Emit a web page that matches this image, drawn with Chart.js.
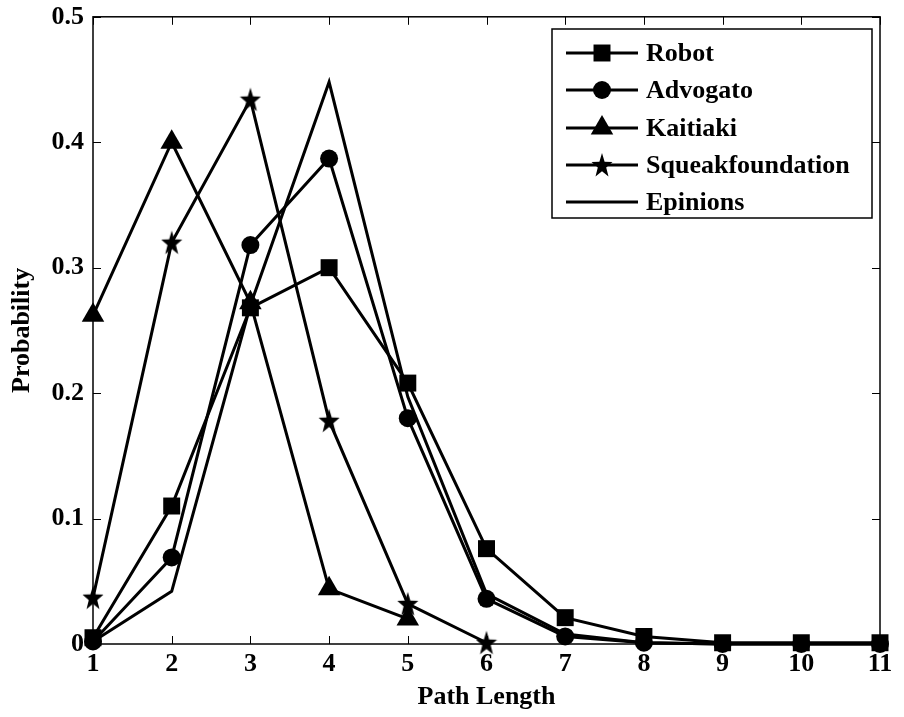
<!DOCTYPE html>
<html>
<head>
<meta charset="utf-8">
<script src="https://cdn.jsdelivr.net/npm/chart.js@4/dist/chart.umd.min.js"></script>
<style>
  body { margin: 0; background: #fff; }
  #pathChart { display: block; }
</style>
</head>
<body>
<canvas id="pathChart" width="904" height="717"></canvas>
<script>
// path length distribution per network
const pathLength = ['1', '2', '3', '4', '5', '6', '7', '8', '9', '10', '11'];
const robot    = [0.005, 0.110, 0.268, 0.300, 0.208, 0.076, 0.021, 0.006, 0.001, 0.001, 0.001];
const advogato = [0.002, 0.069, 0.318, 0.387, 0.180, 0.036, 0.006, 0.001, 0, 0, 0];
const kaitiaki = [0.262, 0.400, 0.272, 0.044, 0.020];
const squeak   = [0.037, 0.320, 0.434, 0.178, 0.032, 0.001];
const epinions = [0.002, 0.042, 0.270, 0.448, 0.197, 0.040, 0.008, 0.001, 0, 0, 0];
const yTicks = [0, 0.1, 0.2, 0.3, 0.4, 0.5];

const FONT = '"Liberation Serif", "Times New Roman", serif';
const FSIZE = 26;
Chart.defaults.font.family = FONT;
Chart.defaults.font.weight = 'bold';
Chart.defaults.color = '#000';

// filled five-point star marker
function makeStar() {
    const c = document.createElement('canvas');
    c.width = 22; c.height = 26;
    const g = c.getContext('2d');
    g.fillStyle = '#000';
    g.beginPath();
    for (let i = 0; i < 10; i++) {
        const r = i % 2 === 0 ? 13 : 5.2;
        const a = -Math.PI / 2 + i * Math.PI / 5;
        const px = 11 + Math.cos(a) * r * 0.85;
        const py = 14 + Math.sin(a) * r;
        if (i === 0) g.moveTo(px, py); else g.lineTo(px, py);
    }
    g.closePath();
    g.fill();
    return c;
}
const starImg = makeStar();

function series(label, data, style, radius) {
    return {
        label: label,
        data: data,
        borderColor: '#000',
        backgroundColor: '#000',
        borderWidth: 3,
        pointStyle: style,
        pointRadius: radius,
        pointHoverRadius: radius,
        pointBorderWidth: 0,
        tension: 0,
        clip: false
    };
}

// box frame with inward ticks on all four sides
const framePlugin = {
    id: 'frame',
    afterDatasetsDraw(chart) {
        const ctx = chart.ctx;
        const a = chart.chartArea;
        const xs = chart.scales.x, ys = chart.scales.y;
        const len = 8;
        ctx.save();
        ctx.strokeStyle = '#000';
        ctx.lineWidth = 1.5;
        ctx.strokeRect(a.left, a.top, a.right - a.left, a.bottom - a.top);
        ctx.lineWidth = 1;
        ctx.beginPath();
        xs.ticks.forEach((t, i) => {
            const px = Math.round(xs.getPixelForTick(i)) + 0.5;
            ctx.moveTo(px, a.bottom); ctx.lineTo(px, a.bottom - len);
            ctx.moveTo(px, a.top); ctx.lineTo(px, a.top + len);
        });
        ys.ticks.forEach(t => {
            const py = Math.round(ys.getPixelForValue(t.value)) + 0.5;
            ctx.moveTo(a.left, py); ctx.lineTo(a.left + len, py);
            ctx.moveTo(a.right, py); ctx.lineTo(a.right - len, py);
        });
        ctx.stroke();
        ctx.restore();
    }
};

// legend box in the upper right corner of the plot
const boxLegend = {
    id: 'boxLegend',
    afterDraw(chart) {
        const ctx = chart.ctx;
        const x0 = 552, y0 = 29, w = 320, h = 189;
        const rowY = [53, 90, 128, 165, 202];
        ctx.save();
        ctx.fillStyle = '#fff';
        ctx.fillRect(x0, y0, w, h);
        ctx.strokeStyle = '#000';
        ctx.lineWidth = 1.5;
        ctx.strokeRect(x0, y0, w, h);
        ctx.font = 'bold ' + FSIZE + 'px ' + FONT;
        ctx.textBaseline = 'middle';
        chart.data.datasets.forEach((ds, i) => {
            const y = rowY[i];
            ctx.strokeStyle = '#000';
            ctx.lineWidth = 3;
            ctx.beginPath();
            ctx.moveTo(566, y); ctx.lineTo(638, y);
            ctx.stroke();
            if (ds.pointRadius > 0) {
                ctx.fillStyle = '#000';
                Chart.helpers.drawPoint(ctx, {
                    pointStyle: ds.pointStyle, radius: ds.pointRadius,
                    borderWidth: 0, rotation: 0
                }, 602, y);
            }
            ctx.fillStyle = '#000';
            ctx.fillText(ds.label, 646, y + 1);
        });
        ctx.restore();
    }
};

new Chart(document.getElementById('pathChart'), {
    type: 'line',
    data: {
        labels: pathLength,
        datasets: [
            series('Robot', robot, 'rect', 12),
            series('Advogato', advogato, 'circle', 9),
            series('Kaitiaki', kaitiaki, 'triangle', 13),
            series('Squeakfoundation', squeak, starImg, 11),
            series('Epinions', epinions, 'circle', 0)
        ]
    },
    options: {
        responsive: false,
        animation: false,
        events: [],
        layout: { padding: { left: 0, top: 16, right: 24, bottom: 0 } },
        plugins: { legend: { display: false }, tooltip: { enabled: false } },
        scales: {
            x: {
                type: 'category',
                offset: false,
                grid: { display: false, drawTicks: false },
                border: { display: false },
                ticks: { font: { size: FSIZE, weight: 'bold' }, padding: 5, maxRotation: 0, autoSkip: false },
                title: { display: true, text: 'Path Length', font: { size: FSIZE, weight: 'bold' }, padding: { top: 0, bottom: 4 } },
                afterFit(scale) { scale.height = 73; }
            },
            y: {
                min: 0,
                max: 0.5,
                grid: { display: false, drawTicks: false },
                border: { display: false },
                afterBuildTicks(scale) { scale.ticks = yTicks.map(v => ({ value: v })); },
                ticks: {
                    font: { size: FSIZE, weight: 'bold', lineHeight: 0.6 },
                    padding: 9,
                    callback: v => v === 0 ? '0' : v.toFixed(1)
                },
                title: { display: true, text: 'Probability', font: { size: FSIZE, weight: 'bold' }, padding: { top: 7, bottom: 0 } },
                afterFit(scale) { scale.width = 93; }
            }
        }
    },
    plugins: [framePlugin, boxLegend]
});
</script>
</body>
</html>
